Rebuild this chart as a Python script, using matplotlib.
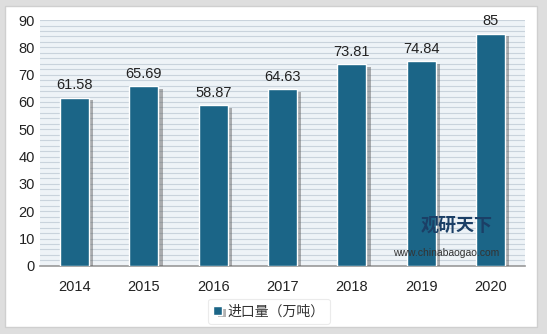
import matplotlib.pyplot as plt
import matplotlib.patheffects as pe
from matplotlib.patches import Rectangle

plt.rcParams['font.family'] = ['Liberation Sans', 'Noto Sans CJK SC', 'DejaVu Sans']

years = ["2014", "2015", "2016", "2017", "2018", "2019", "2020"]
imports = [61.58, 65.69, 58.87, 64.63, 73.81, 74.84, 85]
value_labels = ["61.58", "65.69", "58.87", "64.63", "73.81", "74.84", "85"]
series_name = "进口量（万吨）"

fig = plt.figure(figsize=(5.47, 3.34), dpi=100)
fig.patch.set_facecolor("#dedede")
# white card with border
fig.patches.append(Rectangle((0.01, 0.02), 0.972, 0.962, transform=fig.transFigure,
                             facecolor="white", edgecolor="#cfcfcf", lw=1, zorder=-1))

ax = fig.add_axes([0.073, 0.204, 0.887, 0.736])
ax.set_facecolor("#eef3f7")
for v in range(0, 91, 2):
    ax.axhline(v, color="#c9d3dc", lw=0.8, zorder=0)

x = range(len(years))
bars = ax.bar(x, imports, width=0.42, color="#1b6587", edgecolor="white", lw=1, zorder=3)
for b in bars:
    b.set_path_effects([pe.SimplePatchShadow(offset=(3, -2), shadow_rgbFace="#555555", alpha=0.45),
                        pe.Normal()])

for xi, v, lab in zip(x, imports, value_labels):
    ax.text(xi, v + 2, lab, ha="center", va="bottom", fontsize=10.5, color="#222222", zorder=4)

ax.set_ylim(0, 90)
ax.set_xlim(-0.5, 6.5)
ax.set_yticks(range(0, 91, 10))
ax.set_xticks(list(x))
ax.set_xticklabels(years)
ax.tick_params(axis="both", length=0, labelsize=10.5, colors="#222222")
ax.tick_params(axis="x", pad=10)
for s in ["top", "right", "left"]:
    ax.spines[s].set_visible(False)
ax.spines["bottom"].set_color("#999999")
ax.spines["bottom"].set_linewidth(1.2)

# watermark
ax.text(5.0, 13, "观研天下", fontsize=13, fontweight="bold", color="#1b3f66",
        family=["Noto Sans CJK SC"], zorder=5)
ax.text(4.6, 3.5, "www.chinabaogao.com", fontsize=7.5, color="#333333", zorder=5)

leg = ax.legend([bars[0]], [series_name], loc="upper center", bbox_to_anchor=(0.472, -0.105),
                frameon=True, handlelength=0.6, handleheight=0.6, handletextpad=0.4,
                prop={"family": ["Noto Sans CJK SC"], "size": 10})
leg.get_frame().set_edgecolor("#e6e6e6")
leg.get_frame().set_linewidth(0.8)
for t in leg.get_texts():
    t.set_color("#333333")

fig.savefig("out.png", dpi=100)
